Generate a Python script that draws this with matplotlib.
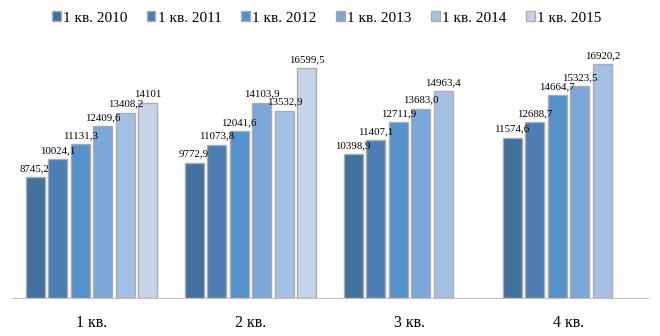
import matplotlib.pyplot as plt
import numpy as np

plt.rcParams['font.family'] = ['Liberation Serif', 'DejaVu Serif']

quarters = ["1 кв.", "2 кв.", "3 кв.", "4 кв."]
series = ["1 кв. 2010", "1 кв. 2011", "1 кв. 2012", "1 кв. 2013", "1 кв. 2014", "1 кв. 2015"]
colors = ["#41719C", "#4A7EB4", "#5592CB", "#7BA7D8", "#A4BFE3", "#C4D4EB"]

v2010 = [8745.2, 9772.9, 10398.9, 11574.6]
v2011 = [10024.1, 11073.8, 11407.1, 12688.7]
v2012 = [11131.3, 12041.6, 12711.9, 14664.7]
v2013 = [12409.6, 14103.9, 13683.0, 15323.5]
v2014 = [13408.2, 13532.9, 14963.4, 16920.2]
v2015 = [14101, 16599.5, np.nan, np.nan]

l2010 = ["8745,2", "9772,9", "10398,9", "11574,6"]
l2011 = ["10024,1", "11073,8", "11407,1", "12688,7"]
l2012 = ["11131,3", "12041,6", "12711,9", "14664,7"]
l2013 = ["12409,6", "14103,9", "13683,0", "15323,5"]
l2014 = ["13408,2", "13532,9", "14963,4", "16920,2"]
l2015 = ["14101", "16599,5", "", ""]

values = [v2010, v2011, v2012, v2013, v2014, v2015]
labels = [l2010, l2011, l2012, l2013, l2014, l2015]

fig = plt.figure(figsize=(6.6, 3.36), dpi=100)
ax = fig.add_axes([12/660, 38/336, 636/660, 249/336])

x = np.arange(len(quarters))
slot = 0.142
width = 0.12
for i in range(len(series)):
    pos = x - 2.5*slot + i*slot
    ax.bar(pos, values[i], width, color=colors[i], edgecolor="#ABABAB",
           linewidth=1, label=series[i])
    for b, v, t in zip(pos, values[i], labels[i]):
        if t:
            ax.text(b, v + 300, t, ha="center", va="bottom", fontsize=7.8)

ax.set_xlim(-0.5, 3.5)
ax.set_ylim(0, 18000)
ax.set_yticks([])
ax.set_xticks(x)
ax.set_xticklabels(quarters, fontsize=11.5)
ax.tick_params(axis="x", length=0, pad=12)
for s in ["top", "right", "left"]:
    ax.spines[s].set_visible(False)
ax.spines["bottom"].set_color("#BFBFBF")

fig.legend(loc="center", bbox_to_anchor=(0.495, 1 - 18/336), ncol=6,
           frameon=False, fontsize=11, handlelength=0.55, handleheight=0.55,
           handletextpad=0.15, columnspacing=1.3)

fig.savefig("out.png", dpi=100)
